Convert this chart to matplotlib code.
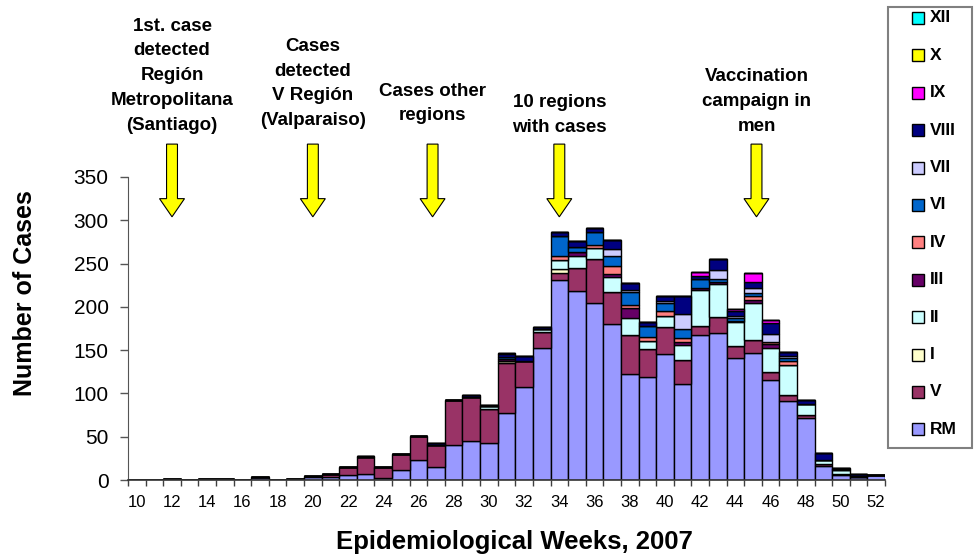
import numpy as np
import matplotlib
matplotlib.use("Agg")
import matplotlib.pyplot as plt
from matplotlib.patches import FancyArrow, Rectangle

plt.rcParams["font.family"] = ["Liberation Sans", "DejaVu Sans"]

# ── Data: cases per epidemiological week (weeks 10-52), by region ────────────
weeks = list(range(10, 53))

rm   = [0, 0, 1, 0, 1, 1, 0, 3, 0, 1,
        3, 4, 6, 7, 2, 12, 23, 15, 41, 45,
        43, 77, 108, 153, 231, 218, 205, 180, 122, 119,
        145, 111, 167, 170, 141, 147, 116, 91, 72, 16,
        6, 3, 6]
r_v  = [0, 0, 0, 0, 0, 0, 0, 0, 0, 0,
        2, 3, 9, 19, 13, 18, 28, 26, 51, 51,
        39, 58, 30, 18, 8, 27, 50, 37, 45, 32,
        32, 28, 11, 18, 14, 15, 9, 7, 3, 2,
        1, 0, 0]
r_i  = [0] * 21 + [3, 0, 0, 5] + [0] * 18
r_ii = [0] * 20 + [3, 0, 0, 4, 10, 14, 13, 18, 20, 10,
                   13, 17, 42, 38, 27, 42, 28, 35, 13, 5,
                   4, 2, 0]
r_iii = [0] * 20 + [0, 2, 0, 0, 0, 4, 0, 3, 12, 0,
                    0, 3, 2, 3, 2, 4, 4, 0, 0, 0,
                    0, 0, 0]
r_iv = [0] * 20 + [0, 0, 0, 0, 5, 0, 4, 9, 3, 4,
                   5, 5, 0, 0, 0, 5, 2, 5, 0, 0,
                   2, 0, 0]
r_vi = [0] * 20 + [0, 2, 0, 0, 23, 6, 14, 12, 15, 13,
                   9, 10, 10, 3, 3, 3, 0, 3, 0, 0,
                   0, 0, 0]
r_vii = [0] * 20 + [0, 0, 0, 0, 0, 0, 0, 8, 3, 0,
                    3, 18, 0, 10, 2, 6, 10, 2, 0, 0,
                    0, 0, 0]
r_viii = [0] * 10 + [0, 0, 0, 2, 0, 0, 0, 2, 0, 2,
                     2, 3, 5, 2, 4, 7, 5, 10, 7, 4,
                     5, 21, 4, 13, 6, 7, 12, 5, 4, 8,
                     1, 2, 0]
r_ix = [0] * 20 + [0, 2, 0, 0, 0, 0, 0, 0, 0, 0,
                   0, 0, 4, 0, 2, 10, 4, 0, 0, 0,
                   0, 0, 0]
r_x   = [0] * 43
r_xii = [0] * 43

regions = ["RM", "V", "I", "II", "III", "IV", "VI", "VII", "VIII", "IX", "X", "XII"]
series = [rm, r_v, r_i, r_ii, r_iii, r_iv, r_vi, r_vii, r_viii, r_ix, r_x, r_xii]
colors = ["#9999FF", "#993366", "#FFFFCC", "#CCFFFF", "#660066", "#FF8080",
          "#0066CC", "#CCCCFF", "#000080", "#FF00FF", "#FFFF00", "#00FFFF"]

# events marked with arrows (week, label)
event_weeks = [12, 20, 26.8, 34, 45.2]
event_labels = ["1st. case\ndetected\nRegión\nMetropolitana\n(Santiago)",
                "Cases\ndetected\nV Región\n(Valparaiso)",
                "Cases other\nregions",
                "10 regions\nwith cases",
                "Vaccination\ncampaign in\nmen"]
label_y = [467, 458, 435, 422, 437]

# ── Figure ────────────────────────────────────────────────────────────────────
W, H = 974, 557
fig = plt.figure(figsize=(W / 100, H / 100), dpi=100)
fig.patch.set_facecolor("white")
ax = fig.add_axes([128 / W, 1 - 480 / H, (885 - 128) / W, (480 - 177) / H])

bottom = np.zeros(len(weeks))
for name, vals, col in zip(regions, series, colors):
    vals = np.array(vals, dtype=float)
    ax.bar(weeks, vals, width=1.0, bottom=bottom, color=col,
           edgecolor="black", linewidth=1.0, label=name)
    bottom += vals

ax.set_xlim(9.5, 52.5)
ax.set_ylim(0, 350)
ax.set_yticks(range(0, 351, 50))
ax.set_xticks(range(10, 53, 2))
ax.set_xticks(np.arange(9.5, 53, 1), minor=True)
ax.tick_params(axis="x", which="major", length=0, pad=11, labelsize=12)
ax.tick_params(axis="x", which="minor", length=4, width=1, direction="out", color="#404040")
ax.tick_params(axis="y", length=6, width=1, pad=8, labelsize=15, color="#555555")
for s in ["top", "right"]:
    ax.spines[s].set_visible(False)
ax.spines["left"].set_color("#555555")
ax.spines["bottom"].set_color("#333333")
ax.spines["bottom"].set_linewidth(1.2)

# arrows + annotations
for wk, txt, ty in zip(event_weeks, event_labels, label_y):
    arr = FancyArrow(wk, 388, 0, -84, width=0.62, head_width=1.42, head_length=21,
                     length_includes_head=True, facecolor="#FFFF00",
                     edgecolor="black", linewidth=0.8, clip_on=False)
    ax.add_patch(arr)
    ax.text(wk, ty, txt, ha="center", va="center", fontsize=13.5,
            fontweight="bold", linespacing=1.6, clip_on=False)

fig.text(25 / W, 1 - 293 / H, "Number of Cases", rotation=90, ha="center",
         va="center", fontsize=18, fontweight="bold")
fig.text(514 / W, 1 - 542 / H, "Epidemiological Weeks, 2007", ha="center",
         va="center", fontsize=18.5, fontweight="bold")

# ── Legend box (Excel style, XII on top) ─────────────────────────────────────
def fx(px):
    return px / W

def fy(py):
    return 1 - py / H

fig.patches.append(Rectangle((fx(888), fy(448)), fx(972) - fx(888), fy(7) - fy(448),
                             transform=fig.transFigure, facecolor="white",
                             edgecolor="#808080", linewidth=1.5))
for i, (name, col) in enumerate(zip(regions[::-1], colors[::-1])):
    yc = 18 + i * 37.4
    fig.patches.append(Rectangle((fx(912), fy(yc + 6)), fx(924) - fx(912), fy(yc - 6) - fy(yc + 6),
                                 transform=fig.transFigure, facecolor=col,
                                 edgecolor="black", linewidth=1.0))
    fig.text(fx(930), fy(yc), name, ha="left", va="center",
             fontsize=12.5, fontweight="bold")

fig.savefig("out.png", dpi=100, facecolor="white")
